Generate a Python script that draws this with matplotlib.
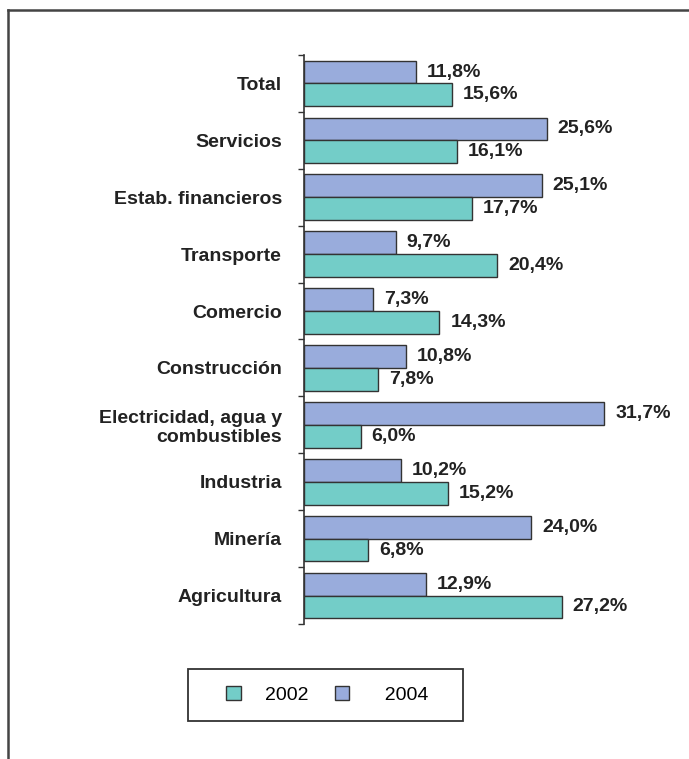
import numpy as np
import matplotlib.pyplot as plt
from matplotlib.lines import Line2D
from matplotlib.patches import Patch, Rectangle

plt.rcParams['font.family'] = ['Liberation Sans', 'DejaVu Sans']

sectores = ['Total', 'Servicios', 'Estab. financieros', 'Transporte', 'Comercio',
            'Construcción', 'Electricidad, agua y\ncombustibles', 'Industria',
            'Minería', 'Agricultura']
v2002 = [15.6, 16.1, 17.7, 20.4, 14.3, 7.8, 6.0, 15.2, 6.8, 27.2]
v2004 = [11.8, 25.6, 25.1, 9.7, 7.3, 10.8, 31.7, 10.2, 24.0, 12.9]

c2002 = '#73cdc8'
c2004 = '#99acdc'

fig = plt.figure(figsize=(6.89, 7.59), dpi=100)
ax = fig.add_axes([304/689, 1-624/759, 360/689, (624-55)/759])

y = np.arange(len(sectores))
h = 0.4
ax.barh(y - h/2, v2004, height=h, color=c2004, edgecolor='#333333', linewidth=1)
ax.barh(y + h/2, v2002, height=h, color=c2002, edgecolor='#333333', linewidth=1)

for i in range(len(sectores)):
    ax.text(v2004[i] + 1.15, y[i] - h/2, f'{v2004[i]:.1f}%'.replace('.', ','),
            va='center', ha='left', fontsize=14, fontweight='bold', color='#222222')
    ax.text(v2002[i] + 1.15, y[i] + h/2, f'{v2002[i]:.1f}%'.replace('.', ','),
            va='center', ha='left', fontsize=14, fontweight='bold', color='#222222')

ax.set_xlim(0, 38)
ax.set_ylim(len(sectores) - 0.5, -0.5)
ax.set_yticks(y)
ax.set_yticklabels(sectores, fontsize=14, fontweight='bold', color='#222222')
ax.tick_params(axis='y', which='major', length=0, pad=16)
ax.set_yticks(np.arange(len(sectores) + 1) - 0.5, minor=True)
ax.tick_params(axis='y', which='minor', length=4, width=1, color='#333333')
ax.set_xticks([])
for s in ['top', 'right', 'bottom']:
    ax.spines[s].set_visible(False)
ax.spines['left'].set_color('#333333')
ax.spines['left'].set_linewidth(1.2)

# leyenda con marco propio
fig.add_artist(Rectangle((188/689, 1-721/759), 275/689, 52/759, transform=fig.transFigure,
                         fill=False, edgecolor='#333333', lw=1.3))
handles = [Patch(facecolor=c2002, edgecolor='#333333', label='2002'),
           Patch(facecolor=c2004, edgecolor='#333333', label='  2004')]
fig.legend(handles=handles, ncol=2, loc='center',
           bbox_to_anchor=(327/689, 1-695/759), frameon=False,
           fontsize=14, handlelength=0.75, handleheight=0.75,
           columnspacing=1.35, handletextpad=1.25)

# marco exterior (solo arriba e izquierda)
fig.add_artist(Line2D([8/689, 1], [1-10/759, 1-10/759], color='#444444', lw=1.8))
fig.add_artist(Line2D([8/689, 8/689], [0, 1-10/759], color='#444444', lw=1.8))

fig.savefig('out.png', dpi=100)
